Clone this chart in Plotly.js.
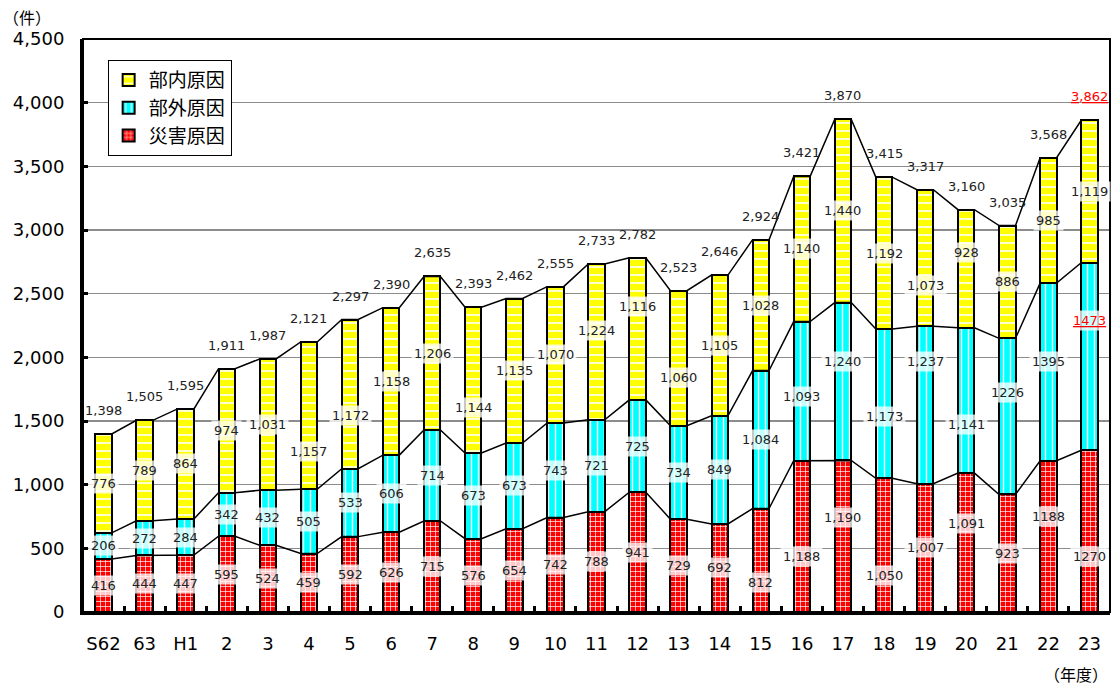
<!DOCTYPE html>
<html>
<head>
<meta charset="utf-8">
<script src="https://cdn.plot.ly/plotly-3.0.1.min.js"></script>
<style>html,body{margin:0;padding:0;background:#fff;}#chart{width:1113px;height:689px;}</style>
</head>
<body>
<div id="chart"></div>
<script>
// ---- data ----
const years = ['S62','63','H1','2','3','4','5','6','7','8','9','10','11','12','13','14','15','16','17','18','19','20','21','22','23'];
const disaster = [416,444,447,595,524,459,592,626,715,576,654,742,788,941,729,692,812,1188,1190,1050,1007,1091,923,1188,1270];   // 災害原因
const external = [206,272,284,342,432,505,533,606,714,673,673,743,721,725,734,849,1084,1093,1240,1173,1237,1141,1226,1395,1473]; // 部外原因
const internal = [776,789,864,974,1031,1157,1172,1158,1206,1144,1135,1070,1224,1116,1060,1105,1028,1140,1440,1192,1073,928,886,985,1119]; // 部内原因
const totals = [1398,1505,1595,1911,1987,2121,2297,2390,2635,2393,2462,2555,2733,2782,2523,2646,2924,3421,3870,3415,3317,3160,3035,3568,3862];

// label formatting / nudges (pixels, positive = downwards)
const disasterNoComma = [23,24];
const externalNoComma = [22,23,24];
const disasterNudge = {16:22,17:20,18:-19,19:30,21:-19,23:-20,24:25};
const externalNudge = {17:5,18:-20,19:13,20:-44,21:24,22:-24,23:-10,24:-36};
const internalNudge = {5:36,6:21,9:27,12:-11,13:-22,14:19,20:28,21:-16};

const JP = '"Noto Sans CJK JP", "Noto Sans", sans-serif';
const NUM = '"DejaVu Sans", "Noto Sans", sans-serif';
const idx = years.map((_, i) => i);
const W = 0.4;

function fmt(v, plain){ return plain ? String(v) : v.toLocaleString('en-US'); }

const barLine = {color:'#000', width:2};
const traces = [
  {type:'bar', name:'災害原因', legendrank:3, x:idx, y:disaster, width:W,
   marker:{color:'#ff0000', line:barLine,
     pattern:{shape:'+', bgcolor:'#ff0000', fgcolor:'#ffffff', size:5, solidity:0.25}},
   hoverinfo:'skip'},
  {type:'bar', name:'部外原因', legendrank:2, x:idx, y:external, width:W,
   marker:{color:'#00ffff', line:barLine,
     pattern:{shape:'|', bgcolor:'#00ffff', fgcolor:'#ffffff', size:7, solidity:0.2}},
   hoverinfo:'skip'},
  {type:'bar', name:'部内原因', legendrank:1, x:idx, y:internal, width:W,
   marker:{color:'#ffff00', line:barLine,
     pattern:{shape:'-', bgcolor:'#ffff00', fgcolor:'#ffffff', size:8, solidity:0.2}},
   hoverinfo:'skip'}
];

// series connecting lines between stacked boundaries
const cum1 = disaster;
const cum2 = disaster.map((v, i) => v + external[i]);
const cum3 = cum2.map((v, i) => v + internal[i]);
[cum1, cum2, cum3].forEach(c => {
  const xs = [], ys = [];
  idx.forEach(i => { xs.push(i - W/2, i + W/2); ys.push(c[i], c[i]); });
  traces.push({type:'scatter', mode:'lines', x:xs, y:ys, showlegend:false,
    line:{color:'#000', width:1.5}, hoverinfo:'skip'});
});
// dummy trace for tick axis
traces.push({type:'scatter', x:[0], y:[0], xaxis:'x2', mode:'markers',
  marker:{opacity:0}, showlegend:false, hoverinfo:'skip'});

const annotations = [];
const labelFont = {family:NUM, size:13, color:'#222'};
const redFont = {family:NUM, size:13, color:'#ff0000'};
const BG = 'rgba(255,255,255,0.78)';
idx.forEach(i => {
  annotations.push({x:i, y:disaster[i]/2, text:fmt(disaster[i], disasterNoComma.includes(i)),
    showarrow:false, font:labelFont, bgcolor:BG, borderpad:2,
    yshift:-(disasterNudge[i]||0)});
  const redTxt = i === 24;
  annotations.push({x:i, y:cum1[i] + external[i]/2,
    text: redTxt ? '<u>' + fmt(external[i], true) + '</u>' : fmt(external[i], externalNoComma.includes(i)),
    showarrow:false, font: redTxt ? redFont : labelFont,
    bgcolor:BG, borderpad:2, yshift:-(externalNudge[i]||0)});
  annotations.push({x:i, y:cum2[i] + internal[i]/2, text:fmt(internal[i], false),
    showarrow:false, font:labelFont, bgcolor:BG, borderpad:2,
    yshift:-(internalNudge[i]||0)});
  annotations.push({x:i, y:totals[i],
    text: i === 24 ? '<u>' + fmt(totals[i], false) + '</u>' : fmt(totals[i], false),
    showarrow:false, yanchor:'bottom', yshift:14,
    font: i === 24 ? redFont : labelFont});
});
annotations.push({xref:'paper', yref:'paper', x:-0.0545, y:1.0385, xanchor:'center', yanchor:'middle',
  text:'（件）', showarrow:false, font:{family:JP, size:16, color:'#000'}});
annotations.push({xref:'paper', yref:'paper', x:1.0, y:-0.1335, xanchor:'right', yanchor:'bottom',
  text:'（年度）', showarrow:false, font:{family:JP, size:16, color:'#000'}});

const layout = {
  width:1113, height:689,
  margin:{l:83, r:3, t:39, b:77},
  paper_bgcolor:'#fff', plot_bgcolor:'#fff',
  barmode:'stack',
  showlegend:true,
  legend:{x:0.024, y:0.963, xanchor:'left', yanchor:'top', traceorder:'normal',
    bgcolor:'#fff', bordercolor:'#000', borderwidth:1,
    font:{family:JP, size:19, color:'#000'}},
  xaxis:{range:[-0.5, 24.5], tickmode:'array', tickvals:idx, ticktext:years,
    ticks:'', showline:true, linecolor:'#000', linewidth:3, showgrid:false, zeroline:false,
    tickfont:{family:NUM, size:18, color:'#000'}, ticklabelstandoff:13, fixedrange:true},
  xaxis2:{overlaying:'x', anchor:'y', range:[-0.5, 24.5], tickmode:'array',
    tickvals:idx.slice(0, -1).map(i => i + 0.5), ticks:'inside', ticklen:6, tickwidth:3,
    tickcolor:'#000', showticklabels:false, showline:false, showgrid:false, zeroline:false, side:'bottom'},
  yaxis:{range:[0, 4500], dtick:500, tickformat:',d', ticks:'inside', ticklen:5, tickwidth:3,
    tickcolor:'#000', showline:true, linecolor:'#000', linewidth:3, zeroline:false,
    gridcolor:'#8c8c8c', gridwidth:1.5,
    tickfont:{family:NUM, size:18, color:'#000'}, ticklabelstandoff:12},
  shapes:[{type:'rect', xref:'paper', yref:'paper', x0:0, x1:1, y0:0, y1:1,
    line:{color:'#000', width:2}, layer:'above'}],
  annotations:annotations
};

Plotly.newPlot('chart', traces, layout, {displayModeBar:false, staticPlot:true});
</script>
</body>
</html>
